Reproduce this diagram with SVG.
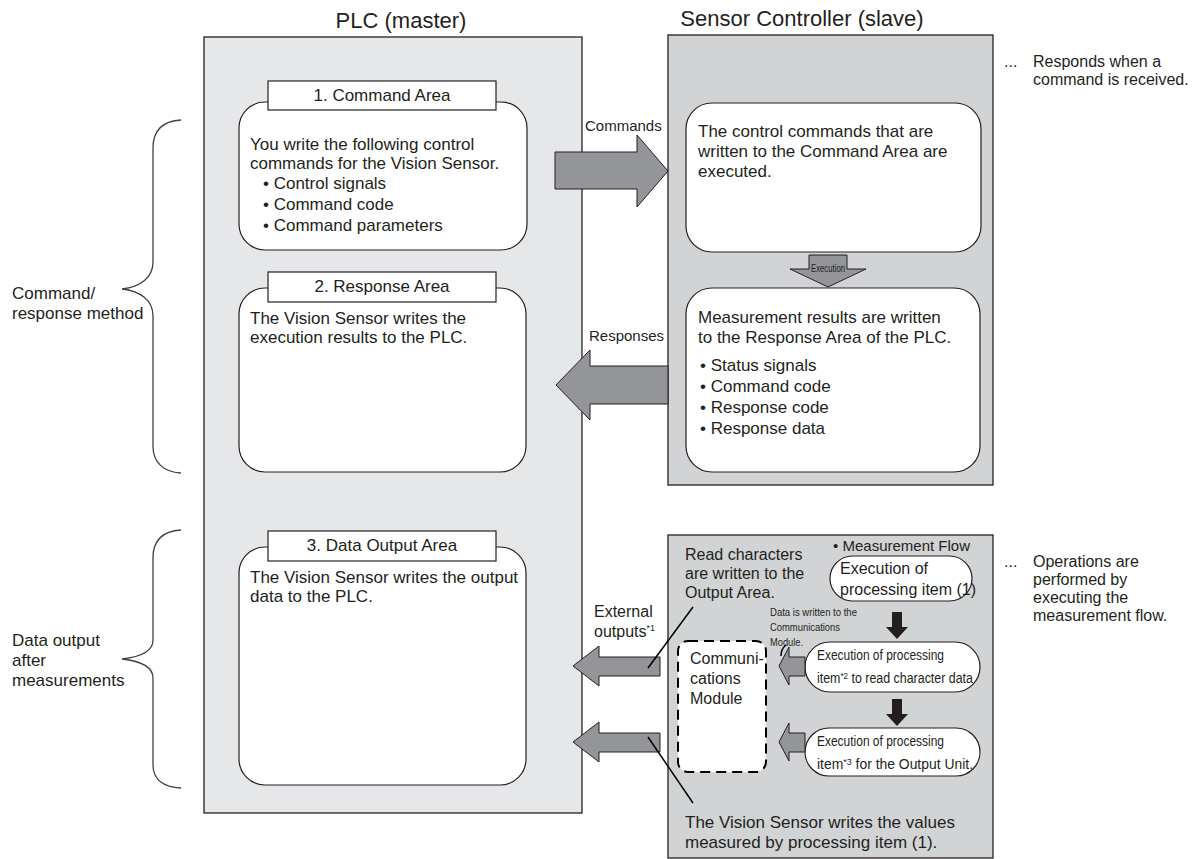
<svg xmlns="http://www.w3.org/2000/svg" width="1196" height="859" viewBox="0 0 1196 859">
<style>
text{font-family:"Liberation Sans",Arial,Helvetica,sans-serif;fill:#231f20}
.title{font-size:22px}
.body{font-size:17px}
.lab{font-size:15px}
.ext{font-size:16px}
.flow{font-size:15px}
.note{font-size:16px}
.sm{font-size:11px}
.pl{font-size:14px}
.sup{font-size:9px}
.mid{text-anchor:middle}
.plc{fill:#e6e7e8;stroke:#231f20;stroke-width:1.3}
.sc{fill:#d1d3d4;stroke:#231f20;stroke-width:1.3}
.box{fill:#fff;stroke:#231f20;stroke-width:1.2}
.arrow{fill:#939598;stroke:#231f20;stroke-width:1}
.blk{fill:#231f20}
.brace{fill:none;stroke:#414042;stroke-width:1.3}
.leader{fill:none;stroke:#000;stroke-width:1.5}
.dash{fill:#fff;stroke:#000;stroke-width:2;stroke-dasharray:10 6}
</style>
<rect width="1196" height="859" fill="#fff"/>

<g id="plc">
  <text class="title mid" x="401" y="28">PLC (master)</text>
  <rect class="plc" x="204" y="37" width="378" height="776"/>
  <g id="command-area">
    <rect class="box" x="239" y="102" width="288" height="148" rx="26"/>
    <rect class="box" x="268" y="81" width="228" height="29"/>
    <text class="body mid" x="382" y="101">1. Command Area</text>
    <text class="body" x="250" y="150">You write the following control</text>
    <text class="body" x="250" y="169">commands for the Vision Sensor.</text>
    <text class="body" x="263" y="189">• Control signals</text>
    <text class="body" x="263" y="210">• Command code</text>
    <text class="body" x="263" y="231">• Command parameters</text>
  </g>
  <g id="response-area">
    <rect class="box" x="239" y="288" width="287" height="184" rx="26"/>
    <rect class="box" x="268" y="272" width="228" height="30"/>
    <text class="body mid" x="382" y="292">2. Response Area</text>
    <text class="body" x="250" y="324">The Vision Sensor writes the</text>
    <text class="body" x="250" y="343">execution results to the PLC.</text>
  </g>
  <g id="data-output-area">
    <rect class="box" x="239" y="547" width="287" height="238" rx="26"/>
    <rect class="box" x="268" y="531" width="228" height="30"/>
    <text class="body mid" x="382" y="551">3. Data Output Area</text>
    <text class="body" x="250" y="583">The Vision Sensor writes the output</text>
    <text class="body" x="250" y="602">data to the PLC.</text>
  </g>
</g>

<g id="sensor-controller">
  <text class="title mid" x="802" y="26">Sensor Controller (slave)</text>
  <rect class="sc" x="668" y="35" width="325" height="450"/>
  <g id="execute-box">
    <rect class="box" x="686" y="103" width="295" height="149" rx="26"/>
    <text class="body" x="698" y="137">The control commands that are</text>
    <text class="body" x="698" y="157">written to the Command Area are</text>
    <text class="body" x="698" y="177">executed.</text>
  </g>
  <g id="results-box">
    <rect class="box" x="686" y="288" width="294" height="184" rx="26"/>
    <text class="body" x="698" y="323">Measurement results are written</text>
    <text class="body" x="698" y="343">to the Response Area of the PLC.</text>
    <text class="body" x="700" y="371">• Status signals</text>
    <text class="body" x="700" y="392">• Command code</text>
    <text class="body" x="700" y="413">• Response code</text>
    <text class="body" x="700" y="434">• Response data</text>
  </g>
</g>

<g id="measurement-flow">
  <rect class="sc" x="668" y="535" width="325" height="323"/>
  <text class="flow" x="970" y="551" text-anchor="end">• Measurement Flow</text>
  <text class="ext" x="685" y="560">Read characters</text>
  <text class="ext" x="685" y="579">are written to the</text>
  <text class="ext" x="685" y="598">Output Area.</text>
  <g id="item1">
    <rect class="box" x="830" y="556" width="142" height="45" rx="22.5"/>
    <text class="ext" x="840" y="574">Execution of</text>
    <text class="ext" x="840" y="595">processing item (1)</text>
  </g>
  <text class="sm" x="770" y="616" textLength="87" lengthAdjust="spacingAndGlyphs">Data is written to the</text>
  <text class="sm" x="770" y="631" textLength="70" lengthAdjust="spacingAndGlyphs">Communications</text>
  <text class="sm" x="770" y="646" textLength="33" lengthAdjust="spacingAndGlyphs">Module.</text>
  <g id="comm-module">
    <rect class="dash" x="678" y="641" width="88" height="131" rx="10"/>
    <text class="ext" x="690" y="664">Communi-</text>
    <text class="ext" x="690" y="684">cations</text>
    <text class="ext" x="690" y="704">Module</text>
  </g>
  <g id="item2">
    <rect class="box" x="805" y="642" width="175" height="50" rx="25"/>
    <text class="pl" x="817" y="660" textLength="127" lengthAdjust="spacingAndGlyphs">Execution of processing</text>
    <text class="pl" x="817" y="683" textLength="156" lengthAdjust="spacingAndGlyphs">item<tspan class="sup" dy="-4">*2</tspan><tspan dy="4"> to read character data</tspan></text>
  </g>
  <g id="item3">
    <rect class="box" x="805" y="728" width="175" height="48" rx="24"/>
    <text class="pl" x="817" y="746" textLength="127" lengthAdjust="spacingAndGlyphs">Execution of processing</text>
    <text class="pl" x="817" y="769" textLength="156" lengthAdjust="spacingAndGlyphs">item<tspan class="sup" dy="-4">*3</tspan><tspan dy="4"> for the Output Unit.</tspan></text>
  </g>
  <text class="body" x="685" y="828">The Vision Sensor writes the values</text>
  <text class="body" x="685" y="848">measured by processing item (1).</text>
</g>

<g id="connectors">
  <path class="arrow" d="M555,152 H637 V135 L668,171 L637,207 V189 H555 Z"/>
  <text class="lab" x="585" y="131">Commands</text>
  <path class="arrow" d="M668,366 H590 V350 L556,385 L590,420 V404 H668 Z"/>
  <text class="lab" x="664" y="341" text-anchor="end">Responses</text>
  <path class="arrow" d="M809,255 H847 V269 H866 L828,287 L790,269 H809 Z"/>
  <text x="828" y="272" font-size="10" text-anchor="middle" textLength="34" lengthAdjust="spacingAndGlyphs">Execution</text>
  <path class="arrow" d="M660,657 H599 V646 L573,666 L599,686 V676 H660 Z"/>
  <path class="arrow" d="M660,733 H599 V722 L573,742 L599,762 V752 H660 Z"/>
  <text class="ext" x="594" y="617">External</text>
  <text class="ext" x="594" y="637">outputs<tspan class="sup" dy="-6">*1</tspan></text>
  <path class="arrow" d="M805,657 H789 V647 L779,666 L789,685 V676 H805 Z"/>
  <path class="arrow" d="M805,733 H789 V723 L779,742 L789,761 V752 H805 Z"/>
  <path class="blk" d="M892,612 H902 V627 H908 L897,639 L886,627 H892 Z"/>
  <path class="blk" d="M892,699 H902 V714 H908 L897,726 L886,714 H892 Z"/>
  <path class="leader" d="M693,607 L648,668"/>
  <path class="leader" d="M648,737 L693,803"/>
  <path class="leader" d="M786,645 Q781,649 781,656" stroke-width="1"/>
</g>

<g id="brace-command">
  <path class="brace" d="M181,120 C163,121 153,130 153,148 L153,262 C153,278 140,287 122,289 C140,291 153,300 153,316 L153,446 C153,462 163,472 181,473"/>
  <text class="body" x="12" y="299">Command/</text>
  <text class="body" x="12" y="319">response method</text>
</g>
<g id="brace-data">
  <path class="brace" d="M181,530 C163,531 153,540 153,558 L153,640 C153,652 140,657 122,659 C140,661 153,666 153,678 L153,765 C153,779 163,787 181,788"/>
  <text class="body" x="12" y="646">Data output</text>
  <text class="body" x="12" y="666">after</text>
  <text class="body" x="12" y="686">measurements</text>
</g>

<g id="notes">
  <text class="note" x="1004" y="67">...</text>
  <text class="note" x="1033" y="67">Responds when a</text>
  <text class="note" x="1033" y="85">command is received.</text>
  <text class="note" x="1004" y="567">...</text>
  <text class="note" x="1033" y="567">Operations are</text>
  <text class="note" x="1033" y="585">performed by</text>
  <text class="note" x="1033" y="603">executing the</text>
  <text class="note" x="1033" y="621">measurement flow.</text>
</g>
</svg>
